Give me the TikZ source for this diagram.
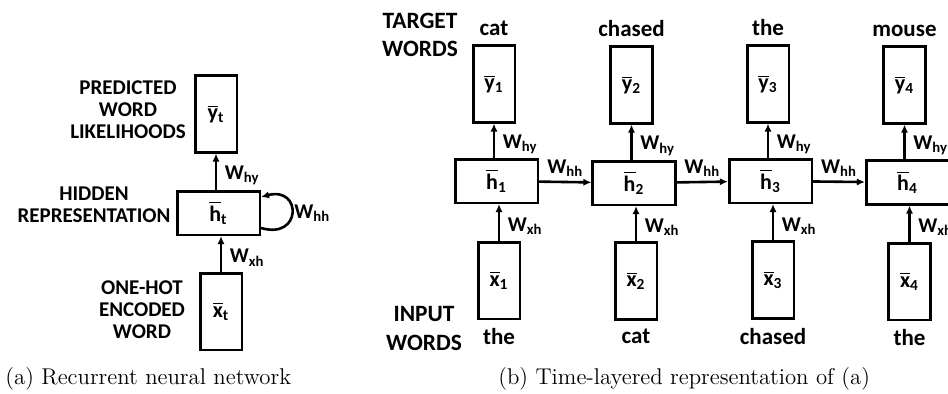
\documentclass[tikz,border=0pt]{standalone}
\usepackage{fontspec}
\setsansfont{Carlito}
\usetikzlibrary{arrows.meta,positioning}

\newcommand{\barvec}[2]{$\overline{\mbox{#1}}$\textsubscript{#2}}
\newcommand{\wsub}[1]{W\textsubscript{#1}}

\tikzset{
  lbl/.style={font=\sffamily\bfseries\fontsize{10.5}{11}\selectfont,inner sep=0pt},
  biglbl/.style={font=\sffamily\bfseries\fontsize{11.7}{14.3}\selectfont,inner sep=0pt,align=center},
  word/.style={font=\sffamily\bfseries\fontsize{11.5}{12}\selectfont,inner sep=0pt},
  tallbox/.style={draw,line width=1.3pt,minimum width=20.8pt,minimum height=38.3pt,
    inner sep=0pt,font=\sffamily\bfseries\fontsize{11}{12}\selectfont},
  widebox/.style={draw,line width=1.3pt,minimum width=41.3pt,minimum height=21.8pt,
    inner sep=0pt,font=\sffamily\bfseries\fontsize{11}{12}\selectfont},
  flow/.style={-{Latex[length=4pt,width=3.6pt]},line width=1.3pt},
  wlbl/.style={lbl,anchor=west,pos=0.4,inner xsep=3.8pt},
  hlbl/.style={lbl,above=2pt},
  caption/.style={anchor=base west,inner sep=0pt,font=\fontsize{11.4}{13}\selectfont},
}

\begin{document}
\begin{tikzpicture}[x=0.5pt,y=-0.5pt]
  \useasboundingbox (0,0) rectangle (948,393);

  % (a) recurrent network
  \node[tallbox] (yt) at (216,114) {\barvec{y}{t}};
  \node[widebox] (ht) at (218.5,213) {\barvec{h}{t}};
  \node[tallbox] (xt) at (221,311.5) {\barvec{x}{t}};

  \node[lbl,align=center] (predlbl) at (128,110) {PREDICTED\\WORD\\LIKELIHOODS};
  \node[lbl,align=center] (hidlbl) at (94,204.5) {HIDDEN\\REPRESENTATION};
  \node[lbl,align=center] (onehotlbl) at (142,310) {ONE-HOT\\ENCODED\\WORD};

  \draw[flow] (yt.south |- ht.north) -- node[wlbl]{\wsub{hy}} (yt.south);
  \draw[flow] (xt.north) -- node[wlbl]{\wsub{xh}} (xt.north |- ht.south);
  \draw[flow] ([yshift=-7.5pt]ht.east) .. controls (302,240) and (302,186) .. ([yshift=8pt]ht.east);
  \node[lbl,anchor=west] (whh) at (294,213) {\wsub{hh}};

  % (b) unrolled in time
  \node[biglbl] (targetlbl) at (420,35) {TARGET\\WORDS};
  \node[biglbl] (inputlbl) at (424,328.5) {INPUT\\WORDS};

  \node[tallbox] (y1) at (494,84) {\barvec{y}{1}};
  \node[widebox] (h1) at (496.5,181) {\barvec{h}{1}};
  \node[tallbox] (x1) at (499,280.5) {\barvec{x}{1}};
  \node[word,above=4pt of y1] (out1) {cat};
  \node[word,below=4pt of x1] (in1) {the};

  \node[tallbox] (y2) at (631.5,85) {\barvec{y}{2}};
  \node[widebox] (h2) at (634,183) {\barvec{h}{2}};
  \node[tallbox] (x2) at (636,281) {\barvec{x}{2}};
  \node[word,above=4pt of y2] (out2) {chased};
  \node[word,below=4pt of x2] (in2) {cat};

  \node[tallbox] (y3) at (768,84) {\barvec{y}{3}};
  \node[widebox] (h3) at (770.5,181) {\barvec{h}{3}};
  \node[tallbox] (x3) at (773,280) {\barvec{x}{3}};
  \node[word,above=4pt of y3] (out3) {the};
  \node[word,below=4pt of x3] (in3) {chased};

  \node[tallbox] (y4) at (904.5,85) {\barvec{y}{4}};
  \node[widebox] (h4) at (907.5,182.5) {\barvec{h}{4}};
  \node[tallbox] (x4) at (909.5,281.5) {\barvec{x}{4}};
  \node[word,above=4pt of y4] (out4) {mouse};
  \node[word,below=4pt of x4] (in4) {the};

  \draw[flow] (y1.south |- h1.north) -- node[wlbl]{\wsub{hy}} (y1.south);
  \draw[flow] (x1.north) -- node[wlbl]{\wsub{xh}} (x1.north |- h1.south);
  \draw[flow] (y2.south |- h2.north) -- node[wlbl]{\wsub{hy}} (y2.south);
  \draw[flow] (x2.north) -- node[wlbl]{\wsub{xh}} (x2.north |- h2.south);
  \draw[flow] (y3.south |- h3.north) -- node[wlbl]{\wsub{hy}} (y3.south);
  \draw[flow] (x3.north) -- node[wlbl]{\wsub{xh}} (x3.north |- h3.south);
  \draw[flow] (y4.south |- h4.north) -- node[wlbl]{\wsub{hy}} (y4.south);
  \draw[flow] (x4.north) -- node[wlbl]{\wsub{xh}} (x4.north |- h4.south);

  \draw[flow] (h1) -- node[hlbl]{\wsub{hh}} (h2);
  \draw[flow] (h2) -- node[hlbl]{\wsub{hh}} (h3);
  \draw[flow] (h3) -- node[hlbl]{\wsub{hh}} (h4);

  % captions
  \node[caption] (capa) at (5,384) {(a) Recurrent neural network};
  \node[caption] (capb) at (498,384) {(b) Time-layered representation of (a)};
\end{tikzpicture}
\end{document}
